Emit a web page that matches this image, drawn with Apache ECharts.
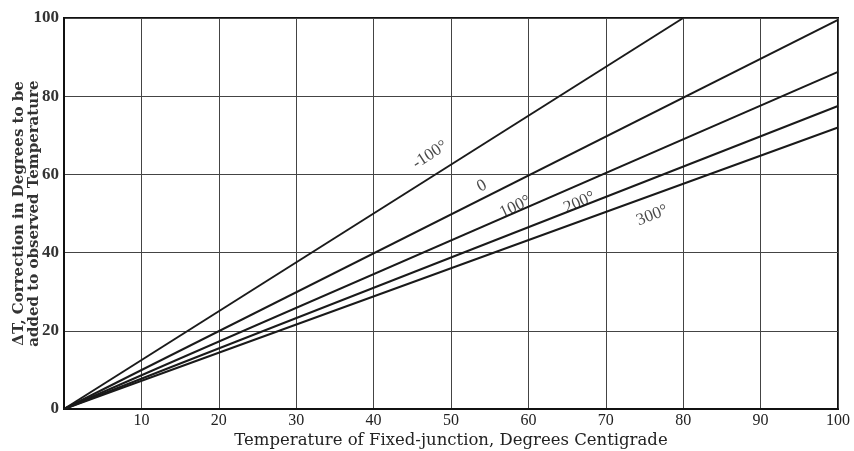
<!DOCTYPE html>
<html><head><meta charset="utf-8">
<script src="https://cdn.jsdelivr.net/npm/echarts@6/dist/echarts.min.js"></script>
<style>html,body{margin:0;padding:0;background:#fff}#c{width:854px;height:451px}</style>
</head><body><div id="c"></div>
<script>
// Curves: each straight line from origin to its end point (x, ΔT)
const seriesNames = ['-100°', '0', '100°', '200°', '300°'];
const lineStart = [0, 0];
const lineEnds = [[80, 100], [100, 99.5], [100, 86.2], [100, 77.5], [100, 72]];
// Label anchor points (data coordinates) and rotation
const labelPoints = [[47.3, 65], [54, 57], [58.3, 51.7], [66.6, 52.8], [76, 49.5]];
const labelAngles = [33, 28, 25, 23, 21];
const xTicks = [0, 10, 20, 30, 40, 50, 60, 70, 80, 90, 100];
const yTicks = [0, 20, 40, 60, 80, 100];

const FONT = 'Liberation Serif';
const WIDE = 'DejaVu Serif';
const chart = echarts.init(document.getElementById('c'));
const series = seriesNames.map((n, i) => ({
  type: 'line', name: n, data: [lineStart, lineEnds[i]], symbol: 'none',
  lineStyle: { color: '#1a1a1a', width: 2 }, silent: true, z: 3
}));
seriesNames.forEach((n, i) => {
  series.push({
    type: 'scatter', data: [labelPoints[i]], symbolSize: 0, silent: true, z: 4,
    label: { show: true, formatter: n, rotate: labelAngles[i], fontFamily: FONT, fontSize: 17, color: '#1a1a1a', position: 'inside' }
  });
});
chart.setOption({
  backgroundColor: '#fff',
  animation: false,
  textStyle: { fontFamily: FONT },
  grid: { left: 64, right: 16, top: 18, bottom: 42, show: true, borderColor: '#111', borderWidth: 2, containLabel: false, outerBoundsMode: 'none' },
  xAxis: {
    type: 'value', min: 0, max: 100, interval: 10,
    name: 'Temperature of Fixed-junction, Degrees Centigrade', nameLocation: 'middle', nameGap: 23, nameMoveOverlap: false,
    nameTextStyle: { fontFamily: WIDE, fontSize: 16.5, color: '#222' },
    axisLine: { show: true, lineStyle: { color: '#111', width: 2 } },
    axisTick: { show: false },
    axisLabel: { fontFamily: FONT, fontSize: 16, color: '#222', margin: 4, formatter: v => v === 0 ? '' : String(v) },
    splitLine: { show: true, lineStyle: { color: '#444', width: 1 } }
  },
  yAxis: {
    type: 'value', min: 0, max: 100, interval: 20,
    name: 'ΔT, Correction in Degrees to be\nadded to observed Temperature', nameLocation: 'middle', nameGap: 22, nameRotate: 90, nameMoveOverlap: false,
    nameTextStyle: { fontFamily: WIDE, fontSize: 15, fontWeight: 'bold', color: '#333', lineHeight: 15 },
    axisLine: { show: true, lineStyle: { color: '#111', width: 2 } },
    axisTick: { show: false },
    axisLabel: { fontFamily: FONT, fontSize: 17, fontWeight: 'bold', color: '#333', margin: 5 },
    splitLine: { show: true, lineStyle: { color: '#444', width: 1 } }
  },
  series: series
});
</script></body></html>
